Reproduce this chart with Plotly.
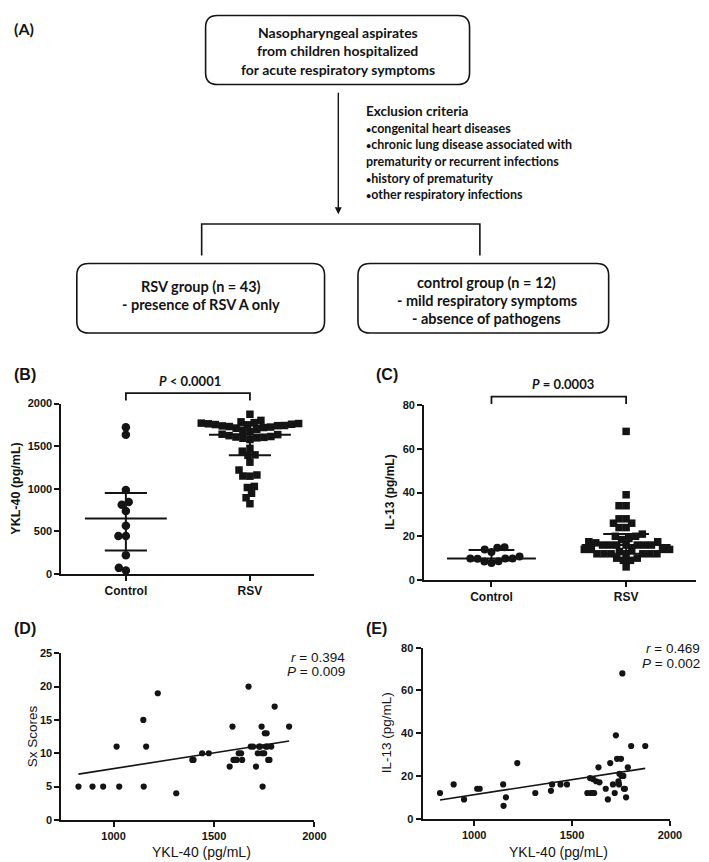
import numpy as np
import plotly.graph_objects as go

W, H = 709, 862

# ---------------- data ----------------
groups = ["Control", "RSV"]
ykl_control = [1634, 1722, 986, 844, 813, 740, 566, 447, 447, 220, 43, 73]
il13_control = [9.8, 9.8, 8.5, 15.0, 7.8, 14.0, 8.6, 12.8, 9.7, 14.8, 9.9, 10.8]

ykl_rsv = [825, 895, 948, 1015, 1028, 1148, 1150, 1162, 1220, 1312,
           1392, 1398, 1441, 1474, 1578, 1592, 1597, 1603, 1607, 1613,
           1623, 1635, 1640, 1672, 1683, 1695, 1709, 1718, 1724, 1730,
           1737, 1740, 1742, 1750, 1753, 1757, 1762, 1765, 1770, 1776,
           1785, 1802, 1874]
sx_rsv = [5, 5, 5, 11, 5, 15, 5, 11, 19, 4,
          9, 9, 10, 10, 8, 14, 9, 9, 9, 9,
          10, 10, 9, 20, 11, 11, 8, 10, 11, 11,
          14, 10, 5, 10, 13, 11, 13, 11, 9, 9,
          11, 17, 14]
il13_rsv = [12, 16, 9, 14, 14, 16, 6, 10, 26, 12,
            13, 16, 16, 16, 12, 19, 12, 12, 18.5, 12,
            17.5, 24, 17, 14, 9, 26, 16, 12, 39, 28,
            17.5, 16, 21, 28, 20, 68, 20, 14, 14, 10,
            24, 34, 34]

yticks_ykl = [0, 500, 1000, 1500, 2000]
yticks_il13 = [0, 20, 40, 60, 80]
yticks_sx = [0, 5, 10, 15, 20, 25]
xticks_ykl = [1000, 1500, 2000]

p_text_B = "<i>P</i> < 0.0001"
p_text_C = "<i>P</i> = 0.0003"
stats_D = ["<i>r</i> = 0.394", "<i>P</i> = 0.009"]
stats_E = ["<i>r</i> = 0.469", "<i>P</i> = 0.002"]

flow_top = ["Nasopharyngeal aspirates", "from children hospitalized", "for acute respiratory symptoms"]
excl_title = "Exclusion criteria"
BUL = "<span style='font-size:9px'>•</span>"
excl_items = [BUL + "congenital heart diseases", BUL + "chronic lung disease associated with",
              "prematurity or recurrent infections", BUL + "history of prematurity",
              BUL + "other respiratory infections"]
rsv_box = ["RSV group (n = 43)", "- presence of RSV A only"]
ctrl_box = ["control group (n = 12)", "- mild respiratory symptoms", "- absence of pathogens"]

# ---------------- helpers ----------------
FONT = "Liberation Sans, Arial, sans-serif"
FLOW = "Lato, sans-serif"
INK = "#141414"


def X(p):
    return p / W


def Y(p):
    return 1 - p / H


def swarm(values, px_per_unit, diam):
    v = np.asarray(values, float)
    order = np.argsort(v, kind="stable")
    placed = []
    offs = np.zeros(len(v))
    for i in order:
        y = v[i] * px_per_unit
        cands = [0.0]
        for (py_, px_) in placed:
            dy = abs(py_ - y)
            if dy < diam:
                dx = np.sqrt(diam ** 2 - dy ** 2)
                cands += [px_ - dx, px_ + dx]
        cands = sorted(cands, key=lambda c: (abs(c), c))
        for c in cands:
            if all((c - px_) ** 2 + (y - py_) ** 2 >= diam ** 2 - 1e-6 for (py_, px_) in placed):
                offs[i] = c
                placed.append((y, c))
                break
    return offs


def quart(v):
    return np.percentile(np.asarray(v, float), [25, 50, 75], method="weibull")


def iqr_trace(g, v, xa, ya, wmed=0.33, wcap=0.17):
    q1, md, q3 = quart(v)
    xs = [g - wmed, g + wmed, None, g - wcap, g + wcap, None, g - wcap, g + wcap, None, g, g]
    ys = [md, md, None, q1, q1, None, q3, q3, None, q1, q3]
    return go.Scatter(x=xs, y=ys, mode="lines", line=dict(color=INK, width=2),
                      xaxis=xa, yaxis=ya, showlegend=False, hoverinfo="skip", cliponaxis=False)


def rrect(x0, y0, x1, y1, r):
    path = (f"M {X(x0 + r)},{Y(y0)} L {X(x1 - r)},{Y(y0)} Q {X(x1)},{Y(y0)} {X(x1)},{Y(y0 + r)} "
            f"L {X(x1)},{Y(y1 - r)} Q {X(x1)},{Y(y1)} {X(x1 - r)},{Y(y1)} "
            f"L {X(x0 + r)},{Y(y1)} Q {X(x0)},{Y(y1)} {X(x0)},{Y(y1 - r)} "
            f"L {X(x0)},{Y(y0 + r)} Q {X(x0)},{Y(y0)} {X(x0 + r)},{Y(y0)} Z")
    return dict(type="path", xref="paper", yref="paper", path=path,
                line=dict(color=INK, width=1.6))


fig = go.Figure()

# ---------------- panel B ----------------
B_ppu = (568 - 395) / 2000.0
B_cat = (311.7 - 54.3) / 2.04
offc = swarm(ykl_control, B_ppu, 7.6) / B_cat
offr = swarm(ykl_rsv, B_ppu, 7.2) / B_cat
fig.add_trace(go.Scatter(x=0 + offc, y=ykl_control, mode="markers", xaxis="x", yaxis="y",
                         marker=dict(symbol="circle", size=8.5, color=INK), showlegend=False, cliponaxis=False))
fig.add_trace(go.Scatter(x=1 + offr, y=ykl_rsv, mode="markers", xaxis="x", yaxis="y",
                         marker=dict(symbol="square", size=7.5, color=INK), showlegend=False, cliponaxis=False))
fig.add_trace(iqr_trace(0, ykl_control, "x", "y"))
fig.add_trace(iqr_trace(1, ykl_rsv, "x", "y"))

# ---------------- panel C ----------------
C_ppu = (574 - 396.7) / 80.0
C_cat = (700 - 423.3) / 2.02
offc2 = swarm(il13_control, C_ppu, 7.4) / C_cat
offr2 = swarm(il13_rsv, C_ppu, 7.2) / C_cat
fig.add_trace(go.Scatter(x=0 + offc2, y=il13_control, mode="markers", xaxis="x2", yaxis="y2",
                         marker=dict(symbol="circle", size=8, color=INK), showlegend=False, cliponaxis=False))
fig.add_trace(go.Scatter(x=1 + offr2, y=il13_rsv, mode="markers", xaxis="x2", yaxis="y2",
                         marker=dict(symbol="square", size=7.5, color=INK), showlegend=False, cliponaxis=False))
fig.add_trace(iqr_trace(0, il13_control, "x2", "y2"))
fig.add_trace(iqr_trace(1, il13_rsv, "x2", "y2"))

# ---------------- panel D ----------------
fig.add_trace(go.Scatter(x=ykl_rsv, y=sx_rsv, mode="markers", xaxis="x3", yaxis="y3",
                         marker=dict(size=6.2, color=INK), showlegend=False, cliponaxis=False))
kd = np.polyfit(ykl_rsv, sx_rsv, 1)
xr = np.array([min(ykl_rsv), max(ykl_rsv)])
fig.add_trace(go.Scatter(x=xr, y=np.polyval(kd, xr), mode="lines", xaxis="x3", yaxis="y3",
                         line=dict(color=INK, width=1.6), showlegend=False))

# ---------------- panel E ----------------
fig.add_trace(go.Scatter(x=ykl_rsv, y=il13_rsv, mode="markers", xaxis="x4", yaxis="y4",
                         marker=dict(size=6.2, color=INK), showlegend=False, cliponaxis=False))
ke = np.polyfit(ykl_rsv, il13_rsv, 1)
fig.add_trace(go.Scatter(x=xr, y=np.polyval(ke, xr), mode="lines", xaxis="x4", yaxis="y4",
                         line=dict(color=INK, width=1.6), showlegend=False))


def ax(**kw):
    d = dict(showline=True, linecolor=INK, linewidth=2, ticks="outside", ticklen=5,
             tickwidth=2, tickcolor=INK, showgrid=False, zeroline=False, fixedrange=True,
             tickfont=dict(family=FONT, size=11, color=INK, weight="bold"))
    d.update(kw)
    return d


catfont = dict(family=FONT, size=12, color=INK, weight="bold")
fig.update_layout(
    width=W, height=H, margin=dict(l=0, r=0, t=0, b=0),
    paper_bgcolor="white", plot_bgcolor="white", showlegend=False,
    xaxis=ax(domain=[X(54.3), X(311.7)], range=[-0.52, 1.52], anchor="y",
             tickvals=[0, 1], ticktext=groups, tickfont=catfont),
    yaxis=ax(domain=[Y(568), Y(395)], range=[0, 2000], anchor="x", tickvals=yticks_ykl),
    xaxis2=ax(domain=[X(423.3), X(700)], range=[-0.5, 1.52], anchor="y2",
              tickvals=[0, 1], ticktext=groups, tickfont=catfont),
    yaxis2=ax(domain=[Y(574), Y(396.7)], range=[0, 80], anchor="x2", tickvals=yticks_il13),
    xaxis3=ax(domain=[X(54.3), X(311.7)], range=[740, 2000], anchor="y3", tickvals=xticks_ykl),
    yaxis3=ax(domain=[Y(817.3), Y(648.3)], range=[0, 25], anchor="x3", tickvals=yticks_sx),
    xaxis4=ax(domain=[X(421.7), X(673.3)], range=[736, 2000], anchor="y4", tickvals=xticks_ykl),
    yaxis4=ax(domain=[Y(816), Y(642.7)], range=[0, 80], anchor="x4", tickvals=yticks_il13),
)

shapes = []
# flowchart boxes
shapes.append(rrect(201, 1.5, 469.5, 71.5, 12))
shapes.append(rrect(70, 253, 322, 323.5, 12))
shapes.append(rrect(356, 253, 611, 323.5, 12))
# flowchart bracket
shapes.append(dict(type="path", xref="paper", yref="paper",
                   path=f"M {X(197)},{Y(245)} L {X(197)},{Y(213)} L {X(480)},{Y(213)} L {X(480)},{Y(245)}",
                   line=dict(color=INK, width=1.6)))
# significance brackets
shapes.append(dict(type="path", xref="x", yref="paper",
                   path=f"M 0,{Y(392)} L 0,{Y(384.5)} L 1,{Y(384.5)} L 1,{Y(392)}",
                   line=dict(color=INK, width=1.8)))
shapes.append(dict(type="path", xref="x2", yref="paper",
                   path=f"M 0,{Y(395.5)} L 0,{Y(388)} L 1,{Y(388)} L 1,{Y(395.5)}",
                   line=dict(color=INK, width=1.8)))
fig.update_layout(shapes=shapes)

ann = []


def text(x, y, s, size, family=FONT, bold=False, xanchor="center", angle=0, align="center"):
    ann.append(dict(x=X(x), y=Y(y), xref="paper", yref="paper", text=s, showarrow=False,
                    xanchor=xanchor, yanchor="middle", textangle=angle, align=align,
                    font=dict(family=family, size=size, color=INK, weight="bold" if bold else "normal")))


# arrow (head at y=203 px, tail at y=80 px)
ann.append(dict(x=X(336), y=Y(203), ax=0, ay=-(203 - 80), xref="paper", yref="paper",
                axref="pixel", ayref="pixel", text="", showarrow=True, arrowhead=2,
                arrowsize=1.0, arrowwidth=1.4, arrowcolor=INK))

# flowchart text
for i, s in enumerate(flow_top):
    text(335.5, 18.5 + 18.7 * i, s, 14, FLOW, True)
text(362, 98.5, excl_title, 13.5, FLOW, True, xanchor="left")
for i, s in enumerate(excl_items):
    text(362, 116 + 16.8 * i, s, 12.5, FLOW, True, xanchor="left")
for i, s in enumerate(rsv_box):
    text(196, 276 + 18.5 * i, s, 14.5, FLOW, True)
for i, s in enumerate(ctrl_box):
    text(487, 272 + 18.3 * i, s, 14.5, FLOW, True)

# panel labels
text(4, 15, "(A)", 16, FLOW, True, xanchor="left")
text(4, 366, "(B)", 16, FONT, True, xanchor="left")
text(372, 366, "(C)", 16, FONT, True, xanchor="left")
text(4, 623, "(D)", 16, FONT, True, xanchor="left")
text(362, 623, "(E)", 16, FONT, True, xanchor="left")

# p-values
text(185.5, 372, p_text_B, 13, FLOW, True)
text(565, 375, p_text_C, 13, FLOW, True)

# axis titles
text(8, 481.5, "YKL-40 (pg/mL)", 12.5, FONT, True, angle=-90)
text(389, 485, "IL-13 (pg/mL)", 12, FONT, True, angle=-90)
text(25, 733, "Sx Scores", 13.5, FONT, False, angle=-90)
text(385, 729, "IL-13 (pg/mL)", 13.5, FONT, False, angle=-90)
text(197, 850, "YKL-40 (pg/mL)", 14, FONT, False)
text(560, 850, "YKL-40 (pg/mL)", 14, FONT, False)

# stats
text(345, 653, stats_D[0], 13.5, FONT, False, xanchor="right")
text(345, 667, stats_D[1], 13.5, FONT, False, xanchor="right")
text(706, 643.5, stats_E[0], 13.5, FONT, False, xanchor="right")
text(706, 658.5, stats_E[1], 13.5, FONT, False, xanchor="right")

fig.update_layout(annotations=ann)
fig.write_html("out.html")
